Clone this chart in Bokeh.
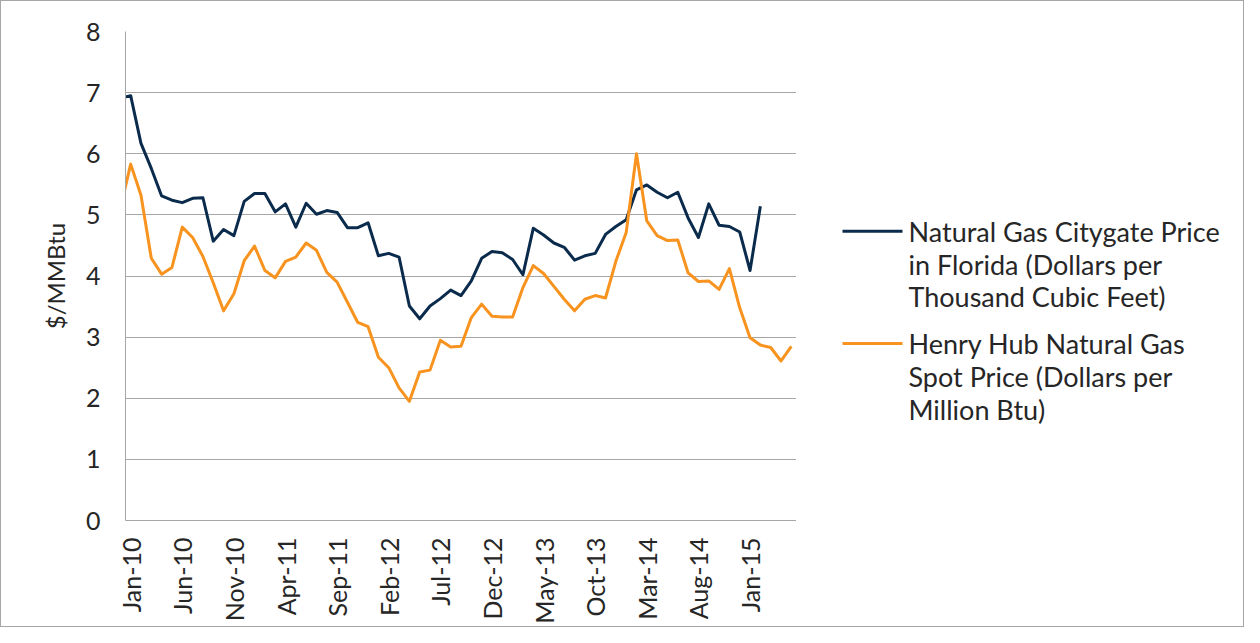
import math
from bokeh.plotting import figure
from bokeh.layouts import row
from bokeh.models import FixedTicker, Range1d
from bokeh.embed import file_html
from bokeh.resources import INLINE
from bokeh.core.properties import value

# ---- data -------------------------------------------------------------
# month index: 0 = Jan-10 ; -1 = Dec-09 (only its segment into Jan-10 is visible)
tick_positions = [0, 5, 10, 15, 20, 25, 30, 35, 40, 45, 50, 55, 60]
tick_labels = ["Jan-10", "Jun-10", "Nov-10", "Apr-11", "Sep-11", "Feb-12", "Jul-12",
               "Dec-12", "May-13", "Oct-13", "Mar-14", "Aug-14", "Jan-15"]
y_ticks = [0, 1, 2, 3, 4, 5, 6, 7, 8]

# Natural Gas Citygate Price in Florida, Dec-09 .. Feb-15
citygate_florida = [6.91,
    6.95, 6.17, 5.76, 5.31, 5.24, 5.20, 5.27, 5.28, 4.57, 4.76, 4.66, 5.22,
    5.35, 5.35, 5.05, 5.18, 4.80, 5.19, 5.01, 5.07, 5.04, 4.79, 4.79, 4.87,
    4.33, 4.37, 4.31, 3.51, 3.30, 3.51, 3.63, 3.77, 3.68, 3.92, 4.29, 4.40,
    4.38, 4.27, 4.02, 4.78, 4.67, 4.54, 4.47, 4.26, 4.33, 4.37, 4.68, 4.81,
    4.92, 5.41, 5.49, 5.37, 5.28, 5.37, 4.95, 4.63, 5.18, 4.83, 4.81, 4.72,
    4.09, 5.14]

# Henry Hub Natural Gas Spot Price, Dec-09 .. May-15
henry_hub = [5.10,
    5.83, 5.32, 4.29, 4.03, 4.14, 4.80, 4.63, 4.32, 3.89, 3.43, 3.71, 4.25,
    4.49, 4.09, 3.97, 4.24, 4.31, 4.54, 4.42, 4.06, 3.90, 3.57, 3.24, 3.17,
    2.67, 2.50, 2.17, 1.95, 2.43, 2.46, 2.95, 2.84, 2.85, 3.32, 3.54, 3.34,
    3.33, 3.33, 3.81, 4.17, 4.04, 3.83, 3.62, 3.43, 3.62, 3.68, 3.64, 4.24,
    4.71, 6.00, 4.90, 4.66, 4.58, 4.59, 4.05, 3.91, 3.92, 3.78, 4.12, 3.48,
    2.99, 2.87, 2.83, 2.61, 2.85]

legend_lines = [["Natural Gas Citygate Price", "in Florida (Dollars per", "Thousand Cubic Feet)"],
                ["Henry Hub Natural Gas", "Spot Price (Dollars per", "Million Btu)"]]

BLUE = "#0b2b4c"
ORANGE = "#f7931e"
GRID = "#a6a6a6"
TEXT = "#262626"
FONT = "Lato"

x_city = list(range(-1, -1 + len(citygate_florida)))
x_hh = list(range(-1, -1 + len(henry_hub)))

H = 625
TOP, BOTTOM = 30, 103

# ---- main chart -------------------------------------------------------
p = figure(width=795, height=H,
           x_range=Range1d(-0.5, 64.5), y_range=Range1d(0, 8),
           output_backend="svg", toolbar_location=None,
           min_border_left=124, min_border_right=0,
           min_border_top=TOP, min_border_bottom=BOTTOM)
p.outline_line_color = None
p.background_fill_color = "white"
p.border_fill_color = "white"

p.line(x_city, citygate_florida, line_color=BLUE, line_width=3, line_join="round")
p.line(x_hh, henry_hub, line_color=ORANGE, line_width=3, line_join="round")

p.xgrid.visible = False
p.ygrid.grid_line_color = GRID
p.ygrid.grid_line_width = 1
p.ygrid.ticker = FixedTicker(ticks=y_ticks)

p.yaxis.ticker = FixedTicker(ticks=y_ticks)
p.yaxis.axis_line_color = GRID
p.yaxis.major_tick_line_color = None
p.yaxis.minor_tick_line_color = None
p.yaxis.major_tick_out = 0
p.yaxis.major_label_standoff = 25
p.yaxis.major_label_text_font = FONT
p.yaxis.major_label_text_font_size = "25px"
p.yaxis.major_label_text_color = TEXT
p.yaxis.axis_label = "$/MMBtu"
p.yaxis.axis_label_text_font = FONT
p.yaxis.axis_label_text_font_size = "24px"
p.yaxis.axis_label_text_font_style = "normal"
p.yaxis.axis_label_text_color = TEXT
p.yaxis.axis_label_standoff = 13

p.xaxis.ticker = FixedTicker(ticks=tick_positions)
p.xaxis.major_label_overrides = {t: l for t, l in zip(tick_positions, tick_labels)}
p.xaxis.major_label_orientation = math.pi / 2
p.xaxis.axis_line_color = GRID
p.xaxis.major_tick_line_color = None
p.xaxis.minor_tick_line_color = None
p.xaxis.major_tick_out = 0
p.xaxis.major_label_standoff = 17
p.xaxis.major_label_text_font = FONT
p.xaxis.major_label_text_font_size = "25px"
p.xaxis.major_label_text_color = TEXT

# ---- legend panel (pixel-like coordinates, y measured from the top) ----
# the row aligns this panel's frame with the chart's frame (TOP..H-BOTTOM)
lg = figure(width=447, height=H, x_range=Range1d(0, 447),
            y_range=Range1d(H - BOTTOM, TOP),
            output_backend="svg", toolbar_location=None,
            x_axis_type=None, y_axis_type=None,
            min_border_left=0, min_border_right=0,
            min_border_top=TOP, min_border_bottom=BOTTOM)
lg.outline_line_color = None
lg.grid.visible = False
lg.background_fill_color = "white"
lg.border_fill_color = "white"

entry_top = [231, 344]
line_gap = 33
swatch_x0, swatch_x1, text_x = 46, 106, 112
lg.segment(x0=[swatch_x0] * 2, y0=entry_top, x1=[swatch_x1] * 2, y1=entry_top,
           line_color=[BLUE, ORANGE], line_width=3)
tx, ty, tt = [], [], []
for top, lines in zip(entry_top, legend_lines):
    for k, txt in enumerate(lines):
        tx.append(text_x)
        ty.append(top + k * line_gap)
        tt.append(txt)
lg.text(x=tx, y=ty, text=tt, text_baseline="middle", text_align="left",
        text_font=value(FONT), text_font_size=value("27px"), text_color=TEXT)

layout = row(p, lg, spacing=0)
layout.styles = {"border": "1px solid #a6a6a6"}

open("out.html", "w").write(file_html(layout, INLINE))
